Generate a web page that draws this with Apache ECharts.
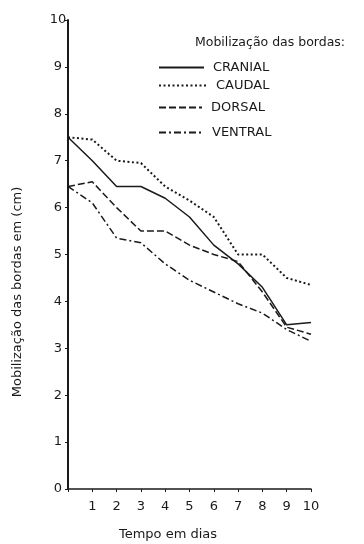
<!DOCTYPE html>
<html>
<head>
<meta charset="utf-8">
<script src="https://cdn.jsdelivr.net/npm/echarts@6/dist/echarts.min.js"></script>
<style>
  html, body { margin: 0; padding: 0; background: #fff; }
  #chart { width: 364px; height: 544px; }
</style>
</head>
<body>
<div id="chart"></div>
<script>
// days on the x axis
var days = ['0', '1', '2', '3', '4', '5', '6', '7', '8', '9', '10']
// mobilization of the wound edges (cm), one value per day
var cranial = [7.5, 7.0, 6.45, 6.45, 6.2, 5.8, 5.2, 4.8, 4.3, 3.5, 3.55]
var caudal = [7.5, 7.45, 7.0, 6.95, 6.45, 6.15, 5.8, 5.0, 5.0, 4.5, 4.35]
var dorsal = [6.45, 6.55, 6.0, 5.5, 5.5, 5.2, 5.0, 4.85, 4.2, 3.45, 3.3]
var ventral = [6.45, 6.1, 5.35, 5.25, 4.8, 4.45, 4.2, 3.95, 3.75, 3.4, 3.15]
var yTicks = { min: 0, max: 10, step: 1 }

var font = 'DejaVu Sans'
var ink = '#1a1a1a'

var chart = echarts.init(document.getElementById('chart'))

function serie(name, values, dash, width) {
  return {
    name: name,
    type: 'line',
    data: values,
    symbol: 'none',
    animation: false,
    lineStyle: { color: ink, width: width, type: dash },
    itemStyle: { color: ink }
  }
}

function legendAt(name, top, width) {
  return {
    data: [name],
    left: 158,
    top: top,
    padding: 0,
    itemWidth: width,
    itemHeight: 14,
    // only the line sample, no marker in the middle
    itemStyle: { opacity: 0 },
    textStyle: { fontFamily: font, fontSize: 13, color: ink, padding: [0, 0, 0, 4] }
  }
}

var option = {
  backgroundColor: '#fff',
  animation: false,
  title: {
    text: 'Mobilização das bordas:',
    left: 195,
    top: 36,
    padding: 0,
    textStyle: { fontFamily: font, fontSize: 12.5, fontWeight: 'normal', color: ink }
  },
  legend: [
    legendAt('CRANIAL', 61, 45),
    legendAt('CAUDAL', 79, 48),
    legendAt('DORSAL', 101, 43),
    legendAt('VENTRAL', 126, 44)
  ],
  grid: { left: 68, right: 53, top: 20, bottom: 55, containLabel: false },
  xAxis: {
    type: 'category',
    data: days,
    boundaryGap: false,
    axisLine: { lineStyle: { color: ink, width: 1.5 } },
    axisTick: { interval: 0, length: 3, lineStyle: { color: ink } },
    axisLabel: {
      interval: 0,
      margin: 11,
      fontFamily: font,
      fontSize: 13,
      color: ink,
      formatter: function (v) { return v === '0' ? '' : v }
    },
    splitLine: { show: false }
  },
  yAxis: {
    type: 'value',
    min: yTicks.min,
    max: yTicks.max,
    interval: yTicks.step,
    axisLine: { show: true, lineStyle: { color: ink, width: 2 } },
    axisTick: { show: true, length: 3, lineStyle: { color: ink } },
    axisLabel: { margin: 10, align: 'center', fontFamily: font, fontSize: 13, color: ink },
    splitLine: { show: false }
  },
  graphic: [
    {
      type: 'text',
      x: 18,
      y: 292,
      rotation: Math.PI / 2,
      style: {
        text: 'Mobilização das bordas em (cm)',
        fontFamily: font,
        fontSize: 13,
        fill: ink,
        align: 'center',
        verticalAlign: 'middle'
      }
    },
    {
      type: 'text',
      x: 168,
      y: 535,
      style: {
        text: 'Tempo em dias',
        fontFamily: font,
        fontSize: 13,
        fill: ink,
        align: 'center',
        verticalAlign: 'middle'
      }
    }
  ],
  series: [
    serie('CRANIAL', cranial, 'solid', 1.5),
    serie('CAUDAL', caudal, [2, 2.5], 2),
    serie('DORSAL', dorsal, [7, 3], 1.5),
    serie('VENTRAL', ventral, [7, 3, 2, 3], 1.5)
  ]
}

chart.setOption(option)
</script>
</body>
</html>
